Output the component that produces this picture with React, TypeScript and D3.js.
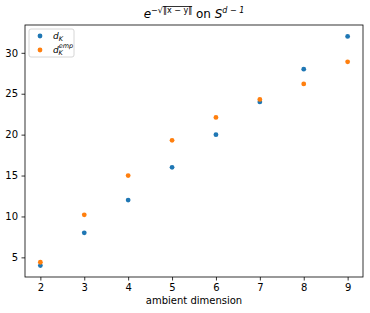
import { useEffect, useRef } from "react";
import * as d3 from "d3";

const dims = [2, 3, 4, 5, 6, 7, 8, 9];
const dK = [4, 8, 12, 16, 20, 24, 28, 32];
const dKEmp = [4.4, 10.2, 15.0, 19.3, 22.1, 24.3, 26.2, 28.9];
const yTicks = [5, 10, 15, 20, 25, 30];

const blue = "#1f77b4";
const orange = "#ff7f0e";

export default function App() {
  const ref = useRef<SVGSVGElement>(null);

  useEffect(() => {
    if (!ref.current) return;
    const svg = d3.select(ref.current);
    svg.selectAll("*").remove();

    const width = 370;
    const height = 313;
    const margin = { top: 25, right: 7, bottom: 36, left: 25 };
    const font = "DejaVu Sans, sans-serif";

    svg.attr("width", width).attr("height", height);

    const x = d3
      .scaleLinear()
      .domain([1.65, 9.35])
      .range([margin.left, width - margin.right]);

    const y = d3
      .scaleLinear()
      .domain([2.6, 33.4])
      .range([height - margin.bottom, margin.top]);

    // points
    const drawSeries = (vals: number[], color: string) => {
      svg
        .append("g")
        .selectAll("circle")
        .data(dims)
        .join("circle")
        .attr("cx", (d) => x(d))
        .attr("cy", (d, i) => y(vals[i]))
        .attr("r", 2.4)
        .attr("fill", color);
    };
    drawSeries(dK, blue);
    drawSeries(dKEmp, orange);

    // axes
    const xAxis = svg
      .append("g")
      .attr("transform", `translate(0,${height - margin.bottom})`)
      .call(d3.axisBottom(x).tickValues(dims).tickSize(3.5).tickPadding(3.5));
    const yAxis = svg
      .append("g")
      .attr("transform", `translate(${margin.left},0)`)
      .call(d3.axisLeft(y).tickValues(yTicks).tickSize(3.5).tickPadding(3.5));
    [xAxis, yAxis].forEach((g) => {
      g.select(".domain").remove();
      g.selectAll("text")
        .style("font-family", font)
        .style("font-size", "10px")
        .attr("fill", "#000");
      g.selectAll("line").attr("stroke", "#000").attr("stroke-width", 0.8);
    });

    // frame
    svg
      .append("rect")
      .attr("x", margin.left)
      .attr("y", margin.top)
      .attr("width", width - margin.left - margin.right)
      .attr("height", height - margin.top - margin.bottom)
      .attr("fill", "none")
      .attr("stroke", "#000")
      .attr("stroke-width", 0.8);

    // x label
    svg
      .append("text")
      .attr("x", (margin.left + width - margin.right) / 2)
      .attr("y", height - 9)
      .attr("text-anchor", "middle")
      .style("font-family", font)
      .style("font-size", "10px")
      .text("ambient dimension");

    // title
    const title = svg
      .append("text")
      .attr("x", 194)
      .attr("y", 18)
      .attr("text-anchor", "middle")
      .style("font-family", font)
      .style("font-size", "12px");
    title.append("tspan").attr("font-style", "italic").text("e");
    title.append("tspan").attr("dy", -5).style("font-size", "8px").text("−√");
    title
      .append("tspan")
      .style("font-size", "8px")
      .attr("text-decoration", "overline")
      .text("‖x − y‖");
    title.append("tspan").attr("dy", 5).text(" on ");
    title.append("tspan").attr("font-style", "italic").text("S");
    title
      .append("tspan")
      .attr("dy", -5)
      .style("font-size", "8px")
      .attr("font-style", "italic")
      .text("d − 1");

    // legend
    const legend = svg.append("g").attr("transform", "translate(29,29)");
    legend
      .append("rect")
      .attr("width", 45)
      .attr("height", 28)
      .attr("rx", 2)
      .attr("fill", "#fff")
      .attr("fill-opacity", 0.8)
      .attr("stroke", "#ccc")
      .attr("stroke-width", 0.8);
    const entries = [
      { color: blue, sup: "" },
      { color: orange, sup: "emp" },
    ];
    entries.forEach((e, i) => {
      const row = legend.append("g").attr("transform", `translate(0,${7 + i * 14})`);
      row.append("circle").attr("cx", 11).attr("cy", 0).attr("r", 2.4).attr("fill", e.color);
      const t = row
        .append("text")
        .attr("x", 24)
        .attr("y", 3)
        .style("font-family", font)
        .style("font-size", "9px")
        .style("font-style", "italic");
      t.append("tspan").text("d");
      const sub = t.append("tspan").style("font-size", "6.5px");
      if (e.sup) {
        t.append("tspan").attr("dy", -5).style("font-size", "6.5px").text(e.sup);
        t.append("tspan").attr("x", 29.5).attr("dy", 7).style("font-size", "6.5px").text("K");
        sub.remove();
      } else {
        sub.attr("dy", 2).text("K");
      }
    });
  }, []);

  return (
    <svg
      ref={ref}
      style={{ position: "absolute", left: 0, top: 0, background: "#fff" }}
    ></svg>
  );
}
